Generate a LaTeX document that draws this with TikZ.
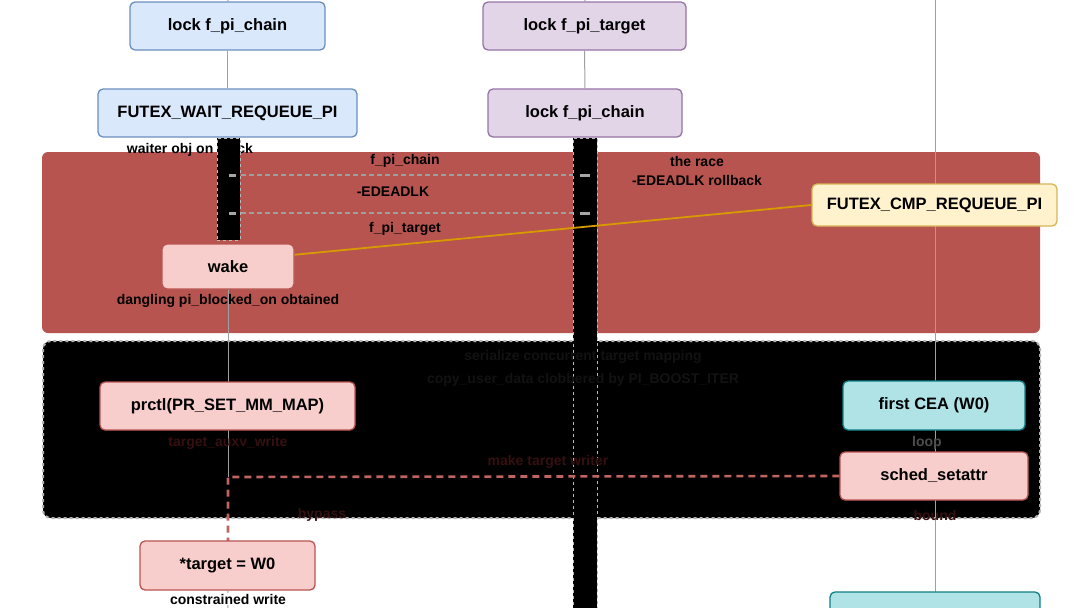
\documentclass[tikz,border=0pt]{standalone}
\usepackage{fontspec}
\setmainfont{Liberation Sans}
\definecolor{bluefill}{HTML}{DAE8FC}
\definecolor{bluedraw}{HTML}{6C8EBF}
\definecolor{purfill}{HTML}{E1D5E7}
\definecolor{purdraw}{HTML}{9673A6}
\definecolor{redfill}{HTML}{F8CECC}
\definecolor{reddraw}{HTML}{B85450}
\definecolor{yelfill}{HTML}{FFF2CC}
\definecolor{yeldraw}{HTML}{D6B656}
\definecolor{tealfill}{HTML}{B0E3E6}
\definecolor{tealdraw}{HTML}{0E8088}
\definecolor{orangeline}{HTML}{D79B00}
\definecolor{regionred}{HTML}{B85450}
\definecolor{lifegray}{HTML}{A0A0A0}
\definecolor{darktext}{HTML}{121212}
\definecolor{darkred}{HTML}{361010}
\begin{document}
\begin{tikzpicture}[x=1pt,y=-1pt,
  box/.style={draw, rounded corners=5pt, line width=1.3pt, inner sep=0pt,
    font=\fontsize{16.5}{18}\selectfont\bfseries},
  bluebox/.style={box, fill=bluefill, draw=bluedraw},
  purbox/.style={box, fill=purfill, draw=purdraw},
  redbox/.style={box, fill=redfill, draw=reddraw},
  yelbox/.style={box, fill=yelfill, draw=yeldraw},
  tealbox/.style={box, fill=tealfill, draw=tealdraw},
  lbl/.style={inner sep=0pt, font=\fontsize{14}{16}\selectfont\bfseries},
  dimlbl/.style={lbl, text=darkred},
  lifeline/.style={draw=lifegray, line width=1pt},
  actbar/.style={fill=black, draw=gray!55, dashed, line width=1pt, inner sep=0pt},
  msgdark/.style={draw=black!80, line width=1.6pt, dash pattern=on 3pt off 5pt},
  msggray/.style={draw=gray!75, line width=1.6pt, dash pattern=on 5pt off 3pt, dash phase=0pt},
  tick/.style={fill=gray!70},
  reddash/.style={draw=reddraw!90!white, line width=2.6pt, dash pattern=on 7pt off 5pt},
  orangelink/.style={draw=orangeline, line width=1.8pt}
]
\useasboundingbox (0,0) rectangle (1080,608);
\fill[white] (0,0) rectangle (1080,608);

% regions
\fill[regionred, rounded corners=6pt] (42,152) rectangle (1040,333);
\filldraw[fill=black, draw=gray!60, dashed, line width=2pt, rounded corners=8pt] (43,341) rectangle (1040,518);

% top nodes
\node[bluebox, minimum width=195pt, minimum height=48pt] (lockA) at (227.5,26) {lock f\_pi\_chain};
\node[bluebox, minimum width=259pt, minimum height=48pt] (waitrq) at (227.5,113) {FUTEX\_WAIT\_REQUEUE\_PI};
\node[purbox, minimum width=203pt, minimum height=48pt] (lockT) at (584.5,26) {lock f\_pi\_target};
\node[purbox, minimum width=194pt, minimum height=48pt] (lockC) at (585,113) {lock f\_pi\_chain};

\coordinate (topA) at (228,0);
\coordinate (topM) at (585,0);
\coordinate (topR) at (935,0);
\coordinate (jn) at (228,477);

% label partly covered by the bar
\node[lbl] (waiterlbl) at (190,150) {waiter obj on stack};

% activation bars
\node[actbar, minimum width=23pt, minimum height=102pt] (leftbar) at (228.5,189) {};
\node[actbar, minimum width=24pt, minimum height=472pt] (midbar) at (585,374) {};

\draw[lifeline] (topA) -- (lockA);
\draw[lifeline] (lockA) -- (waitrq);
\draw[lifeline] (topM) -- (lockT);
\draw[lifeline] (lockT) -- (lockC);

% messages
\coordinate (m1a) at (leftbar.east |- 0,175);
\coordinate (m1b) at (midbar.west |- 0,175);
\coordinate (m2a) at (leftbar.east |- 0,213);
\coordinate (m2b) at (midbar.west |- 0,213);
\draw[msgdark] (m1a) -- (m1b);
\draw[msggray] (m1a) -- (m1b);
\draw[msgdark] (m2a) -- (m2b);
\draw[msggray] (m2a) -- (m2b);
\fill[tick] (229,173.5) rectangle (236,176.5);
\fill[tick] (229,211.5) rectangle (236,214.5);
\fill[tick] (580,173.5) rectangle (590,176.5);
\fill[tick] (580,211.5) rectangle (590,214.5);
\node[lbl] (l1) at (405,161) {f\_pi\_chain};
\node[lbl] (l2) at (393,192) {-EDEADLK};
\node[lbl] (l3) at (405,229) {f\_pi\_target};
\node[lbl, align=center] (race) at (697,171) {the race\\[3pt]-EDEADLK rollback};

% lifelines on the right and lower left
\coordinate (cmpC) at (934.5,205);
\coordinate (ceaC) at (934,405.5);
\coordinate (schedC) at (934,476);
\coordinate (botC) at (935,615);
\draw[lifeline] (topR) -- (botC);
\draw[lifeline] (228,289) -- (jn);

% boxes
\node[yelbox, minimum width=245pt, minimum height=42pt] (cmp) at (cmpC) {FUTEX\_CMP\_REQUEUE\_PI};
\node[redbox, minimum width=132pt, minimum height=45pt] (wake) at (228,266.5) {wake};
\node[lbl] (dangl) at (228,301) {dangling pi\_blocked\_on obtained};
\node[redbox, minimum width=255pt, minimum height=48pt] (prctl) at (227.5,406) {prctl(PR\_SET\_MM\_MAP)};
\node[tealbox, minimum width=182pt, minimum height=49pt] (cea) at (ceaC) {first CEA (W0)};
\node[redbox, minimum width=188pt, minimum height=48pt] (sched) at (schedC) {sched\_setattr};
\node[tealbox, minimum width=210pt, minimum height=46pt] (bottomR) at (botC) {};

% black region texts
\node[lbl, text=darktext, align=center] (serial) at (583,368.5) {serialize concurrent target mapping\\[7pt]copy\_user\_data clobbered by PI\_BOOST\_ITER};
\node[dimlbl] (auxv) at (228,443) {target\_auxv\_write};
\node[lbl, text=darktext!75!white] (loop) at (927,443) {loop};
\node[dimlbl] (mkw) at (548,462) {make target writer};
\node[dimlbl] (byp) at (322,515) {bypass};
\node[dimlbl] (bnd) at (935,515) {bound};

% connectors
\draw[orangelink] (wake.10) -- (cmp.west);
\draw[reddash] (sched.west) -- (jn) -- (228,541);
\node[redbox, minimum width=175pt, minimum height=49pt] (target) at (227.5,565.5) {*target = W0};
\draw[lifeline] (target) -- (228,608);
\node[lbl, fill=white, inner sep=1pt] (cw) at (228,599) {constrained write};
\end{tikzpicture}
\end{document}
